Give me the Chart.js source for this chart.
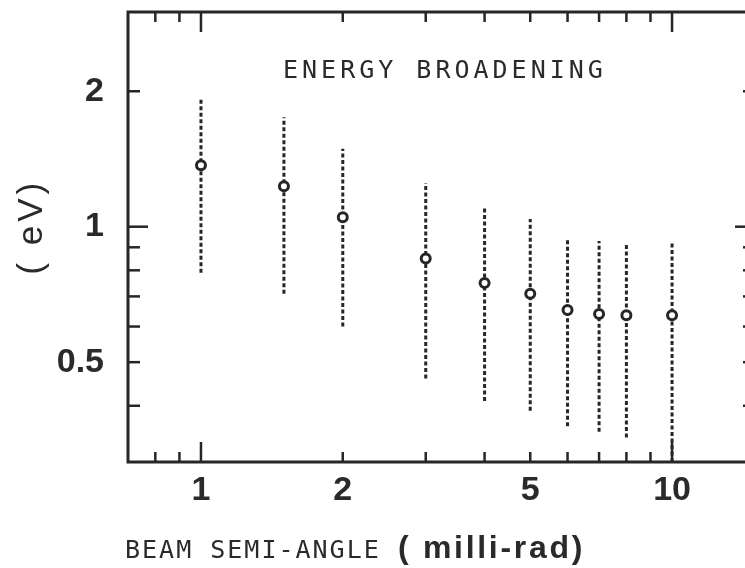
<!DOCTYPE html>
<html lang="en">
<head>
<meta charset="UTF-8">
<title>Energy broadening vs beam semi-angle</title>
<script src="https://cdn.jsdelivr.net/npm/chart.js@4.4.2/dist/chart.umd.min.js"></script>
<style>
  html, body { margin: 0; padding: 0; background: #fff; overflow: hidden; }
  #wrap { width: 765px; height: 568px; }
</style>
</head>
<body>
<div id="wrap"><canvas id="chart" width="765" height="568"></canvas></div>
<script>
// beam semi-angle (milli-rad)
const angles = [1, 1.5, 2, 3, 4, 5, 6, 7, 8, 10];
// energy broadening (eV)
const broadening = [1.37, 1.23, 1.05, 0.85, 0.75, 0.71, 0.653, 0.64, 0.636, 0.636];
// ends of the dotted bars
const upperBar = [1.93, 1.75, 1.49, 1.25, 1.10, 1.04, 0.94, 0.93, 0.92, 0.92];
const lowerBar = [0.79, 0.71, 0.60, 0.46, 0.41, 0.39, 0.36, 0.35, 0.34, 0.30];

// axes
const xTickLabels = [1, 2, 5, 10];
const yTickLabels = [0.5, 1, 2];
const xMajor = [1, 10];
const xMinor = [0.8, 0.9, 2, 3, 4, 5, 6, 7, 8, 9];
const yMajor = [1];
const yMinor = [0.4, 0.5, 0.6, 0.7, 0.8, 0.9, 2];

const INK = '#262626';
const SANS = '"Liberation Sans", Arial, sans-serif';
const MONO = '"DejaVu Sans Mono", monospace';

// one dotted line per angle
const bars = angles.map((a, i) => ({
    type: 'line',
    data: [{ x: a, y: lowerBar[i] }, { x: a, y: upperBar[i] }],
    borderColor: INK,
    borderWidth: 3,
    borderDash: [4, 2.5],
    pointRadius: 0,
    order: 2
}));

// frame, inward ticks and the titles
const frame = {
    id: 'frame',
    afterDraw(chart) {
        const { ctx, chartArea: a, scales: { x, y } } = chart;
        ctx.save();
        ctx.strokeStyle = INK;
        ctx.lineWidth = 3;
        ctx.strokeRect(a.left, a.top, a.right - a.left, a.bottom - a.top);

        ctx.lineWidth = 2.5;
        const seg = (x1, y1, x2, y2) => {
            ctx.beginPath(); ctx.moveTo(x1, y1); ctx.lineTo(x2, y2); ctx.stroke();
        };
        const xTick = (v, len) => {
            const p = x.getPixelForValue(v);
            seg(p, a.bottom, p, a.bottom - len);
            seg(p, a.top, p, a.top + len);
        };
        const yTick = (v, len) => {
            const p = y.getPixelForValue(v);
            seg(a.left, p, a.left + len, p);
            seg(a.right, p, a.right - len, p);
        };
        xMajor.forEach(v => xTick(v, 20));
        xMinor.forEach(v => xTick(v, 10));
        yMajor.forEach(v => yTick(v, 20));
        yMinor.forEach(v => yTick(v, 12));

        ctx.fillStyle = '#2a2a2a';
        ctx.textBaseline = 'alphabetic';
        ctx.textAlign = 'left';

        ctx.font = '25px ' + MONO;
        ctx.letterSpacing = '4px';
        ctx.fillText('ENERGY BROADENING', a.left + 155, a.top + 66);

        ctx.letterSpacing = '2px';
        ctx.fillText('BEAM SEMI-ANGLE', a.left - 3, 558);

        ctx.font = 'bold 32px ' + SANS;
        ctx.letterSpacing = '2.7px';
        ctx.fillText('( milli-rad)', a.left + 270, 558);

        ctx.font = '35px ' + SANS;
        ctx.translate(32, y.getPixelForValue(1));
        ctx.rotate(-Math.PI / 2);
        ctx.textAlign = 'center';
        ctx.textBaseline = 'middle';
        ctx.letterSpacing = '4px';
        ctx.fillText('( eV)', 0, 0);
        ctx.restore();
    }
};

new Chart(document.getElementById('chart'), {
    type: 'scatter',
    data: {
        datasets: [{
            data: angles.map((a, i) => ({ x: a, y: broadening[i] })),
            pointStyle: 'circle',
            pointRadius: 4.5,
            pointBorderWidth: 3,
            pointBackgroundColor: '#fff',
            pointBorderColor: INK,
            showLine: false,
            order: 1
        }, ...bars]
    },
    options: {
        responsive: false,
        animation: false,
        devicePixelRatio: 1,
        layout: { padding: { top: 12, right: 10, bottom: 0, left: 0 } },
        plugins: {
            legend: { display: false },
            tooltip: { enabled: false }
        },
        scales: {
            x: {
                type: 'logarithmic',
                min: 0.7,
                max: 15,
                afterBuildTicks: s => { s.ticks = xTickLabels.map(v => ({ value: v })); },
                afterFit: s => { s.height = 106; s.paddingLeft = 0; s.paddingRight = 0; },
                grid: { display: false, drawTicks: false },
                border: { display: false },
                ticks: {
                    autoSkip: false,
                    maxRotation: 0,
                    padding: 8,
                    color: '#2a2a2a',
                    font: { family: SANS, size: 34, weight: 'bold' },
                    callback: v => String(v)
                }
            },
            y: {
                type: 'logarithmic',
                min: 0.3,
                max: 3,
                afterBuildTicks: s => { s.ticks = yTickLabels.map(v => ({ value: v })); },
                afterFit: s => { s.width = 128; s.paddingTop = 0; s.paddingBottom = 0; },
                grid: { display: false, drawTicks: false },
                border: { display: false },
                ticks: {
                    autoSkip: false,
                    padding: 24,
                    color: '#2a2a2a',
                    font: { family: SANS, size: 34, weight: 'bold' },
                    callback: v => String(v)
                }
            }
        }
    },
    plugins: [frame]
});
</script>
</body>
</html>
